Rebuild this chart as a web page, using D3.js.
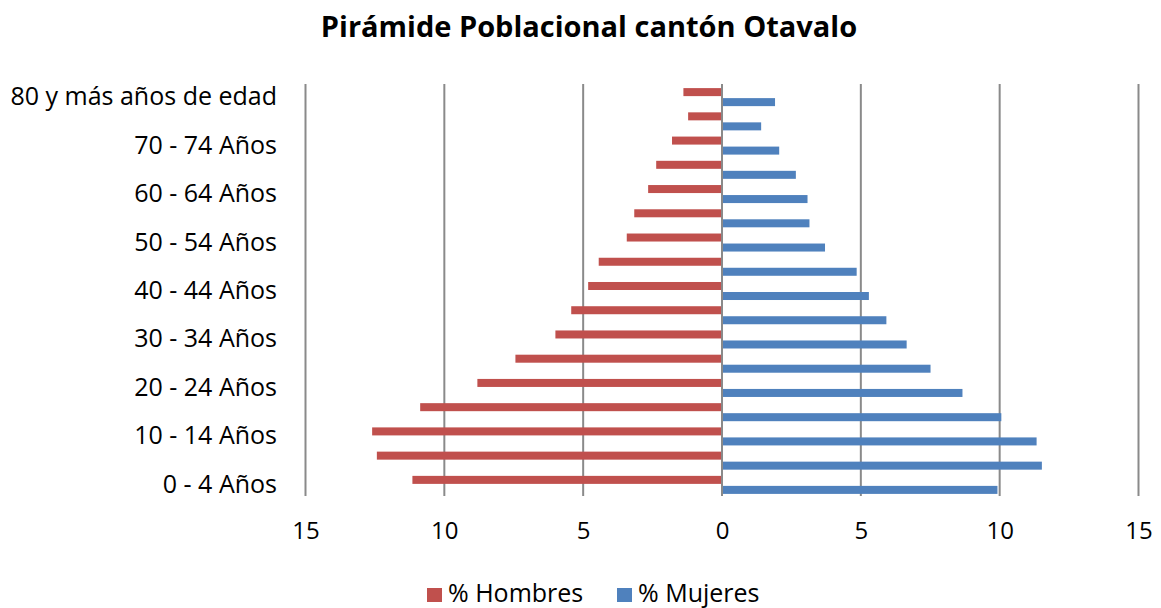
<!DOCTYPE html>
<html>
<head>
<meta charset="utf-8">
<script src="https://cdn.jsdelivr.net/npm/d3@7"></script>
<style>
  body { margin: 0; background: #fff; }
  svg { font-family: "Open Sans", sans-serif; }
  .grid line { stroke: #8a8a8a; stroke-width: 2; }
  .grid .domain { display: none; }
  .axis-x text, .axis-y text { fill: #000; }
  .axis-x .domain, .axis-x line, .axis-y .domain, .axis-y line { display: none; }
</style>
</head>
<body>
<div id="chart"></div>
<script>
// Data (percent of population)
const ageGroups = [
  "0 - 4 Años", "5 - 9 Años", "10 - 14 Años", "15 - 19 Años", "20 - 24 Años",
  "25 - 29 Años", "30 - 34 Años", "35 - 39 Años", "40 - 44 Años", "45 - 49 Años",
  "50 - 54 Años", "55 - 59 Años", "60 - 64 Años", "65 - 69 Años", "70 - 74 Años",
  "75 - 79 Años", "80 y más años de edad"
];
const hombres = [11.15, 12.43, 12.6, 10.87, 8.81, 7.44, 6.0, 5.43, 4.82, 4.44,
                 3.43, 3.16, 2.66, 2.37, 1.8, 1.22, 1.39];
const mujeres = [9.92, 11.52, 11.33, 10.06, 8.66, 7.51, 6.65, 5.92, 5.29, 4.85,
                 3.71, 3.15, 3.08, 2.66, 2.06, 1.41, 1.91];
const xTicks = [-15, -10, -5, 0, 5, 10, 15];
const seriesNames = ["% Hombres", "% Mujeres"];
const seriesColors = ["#C0504D", "#4F81BD"];

const width = 1161;
const height = 608;

const svg = d3.select("#chart")
  .append("svg")
  .attr("width", width)
  .attr("height", height);

const xScale = d3.scaleLinear()
  .domain([-15, 15])
  .range([305.5, 1138.5]);

const yScale = d3.scaleBand()
  .domain(ageGroups)
  .range([497, 85])
  .padding(0);

const subScale = d3.scaleBand()
  .domain(["h", "m"])
  .range([0, yScale.bandwidth()])
  .paddingInner(0.2)
  .paddingOuter(0.31);

// grid lines
svg.append("g")
  .attr("class", "grid")
  .selectAll("line")
  .data(xTicks)
  .join("line")
  .attr("x1", d => xScale(d))
  .attr("x2", d => xScale(d))
  .attr("y1", 84)
  .attr("y2", 496);

// bars
const rows = ageGroups.map((g, i) => ({ group: g, h: hombres[i], m: mujeres[i] }));

svg.append("g")
  .selectAll("rect")
  .data(rows)
  .join("rect")
  .attr("x", d => xScale(-d.h))
  .attr("width", d => xScale(0) - xScale(-d.h))
  .attr("y", d => yScale(d.group) + subScale("h"))
  .attr("height", subScale.bandwidth())
  .attr("fill", seriesColors[0]);

svg.append("g")
  .selectAll("rect")
  .data(rows)
  .join("rect")
  .attr("x", xScale(0) + 1)
  .attr("width", d => xScale(d.m) - xScale(0) - 1)
  .attr("y", d => yScale(d.group) + subScale("m"))
  .attr("height", subScale.bandwidth())
  .attr("fill", seriesColors[1]);

// zero line over bars
svg.append("line")
  .attr("x1", xScale(0))
  .attr("x2", xScale(0))
  .attr("y1", 84)
  .attr("y2", 496)
  .attr("stroke", "#8a8a8a")
  .attr("stroke-width", 2);

// axes
svg.append("g")
  .attr("class", "axis-x")
  .attr("transform", "translate(0, 519)")
  .call(d3.axisBottom(xScale).tickValues(xTicks).tickSize(0).tickFormat(d => Math.abs(d)))
  .selectAll("text")
  .attr("font-size", 24)
  .attr("font-family", "Open Sans");

svg.append("g")
  .attr("class", "axis-y")
  .attr("transform", "translate(290, 0)")
  .call(d3.axisLeft(yScale)
    .tickValues(ageGroups.filter((d, i) => i % 2 === 0))
    .tickSize(0)
    .tickPadding(13))
  .selectAll("text")
  .attr("font-size", 25)
  .attr("font-family", "Open Sans");

// title
svg.append("text")
  .attr("x", 589)
  .attr("y", 37)
  .attr("text-anchor", "middle")
  .attr("font-size", 29)
  .attr("font-weight", "bold")
  .text("Pirámide Poblacional cantón Otavalo");

// legend
const legendX = [427, 617];
const legend = svg.append("g");
seriesNames.forEach((name, i) => {
  legend.append("rect")
    .attr("x", legendX[i])
    .attr("y", 588)
    .attr("width", 15)
    .attr("height", 14)
    .attr("fill", seriesColors[i]);
  legend.append("text")
    .attr("x", legendX[i] + 21)
    .attr("y", 602)
    .attr("font-size", 25)
    .text(name);
});
</script>
</body>
</html>
